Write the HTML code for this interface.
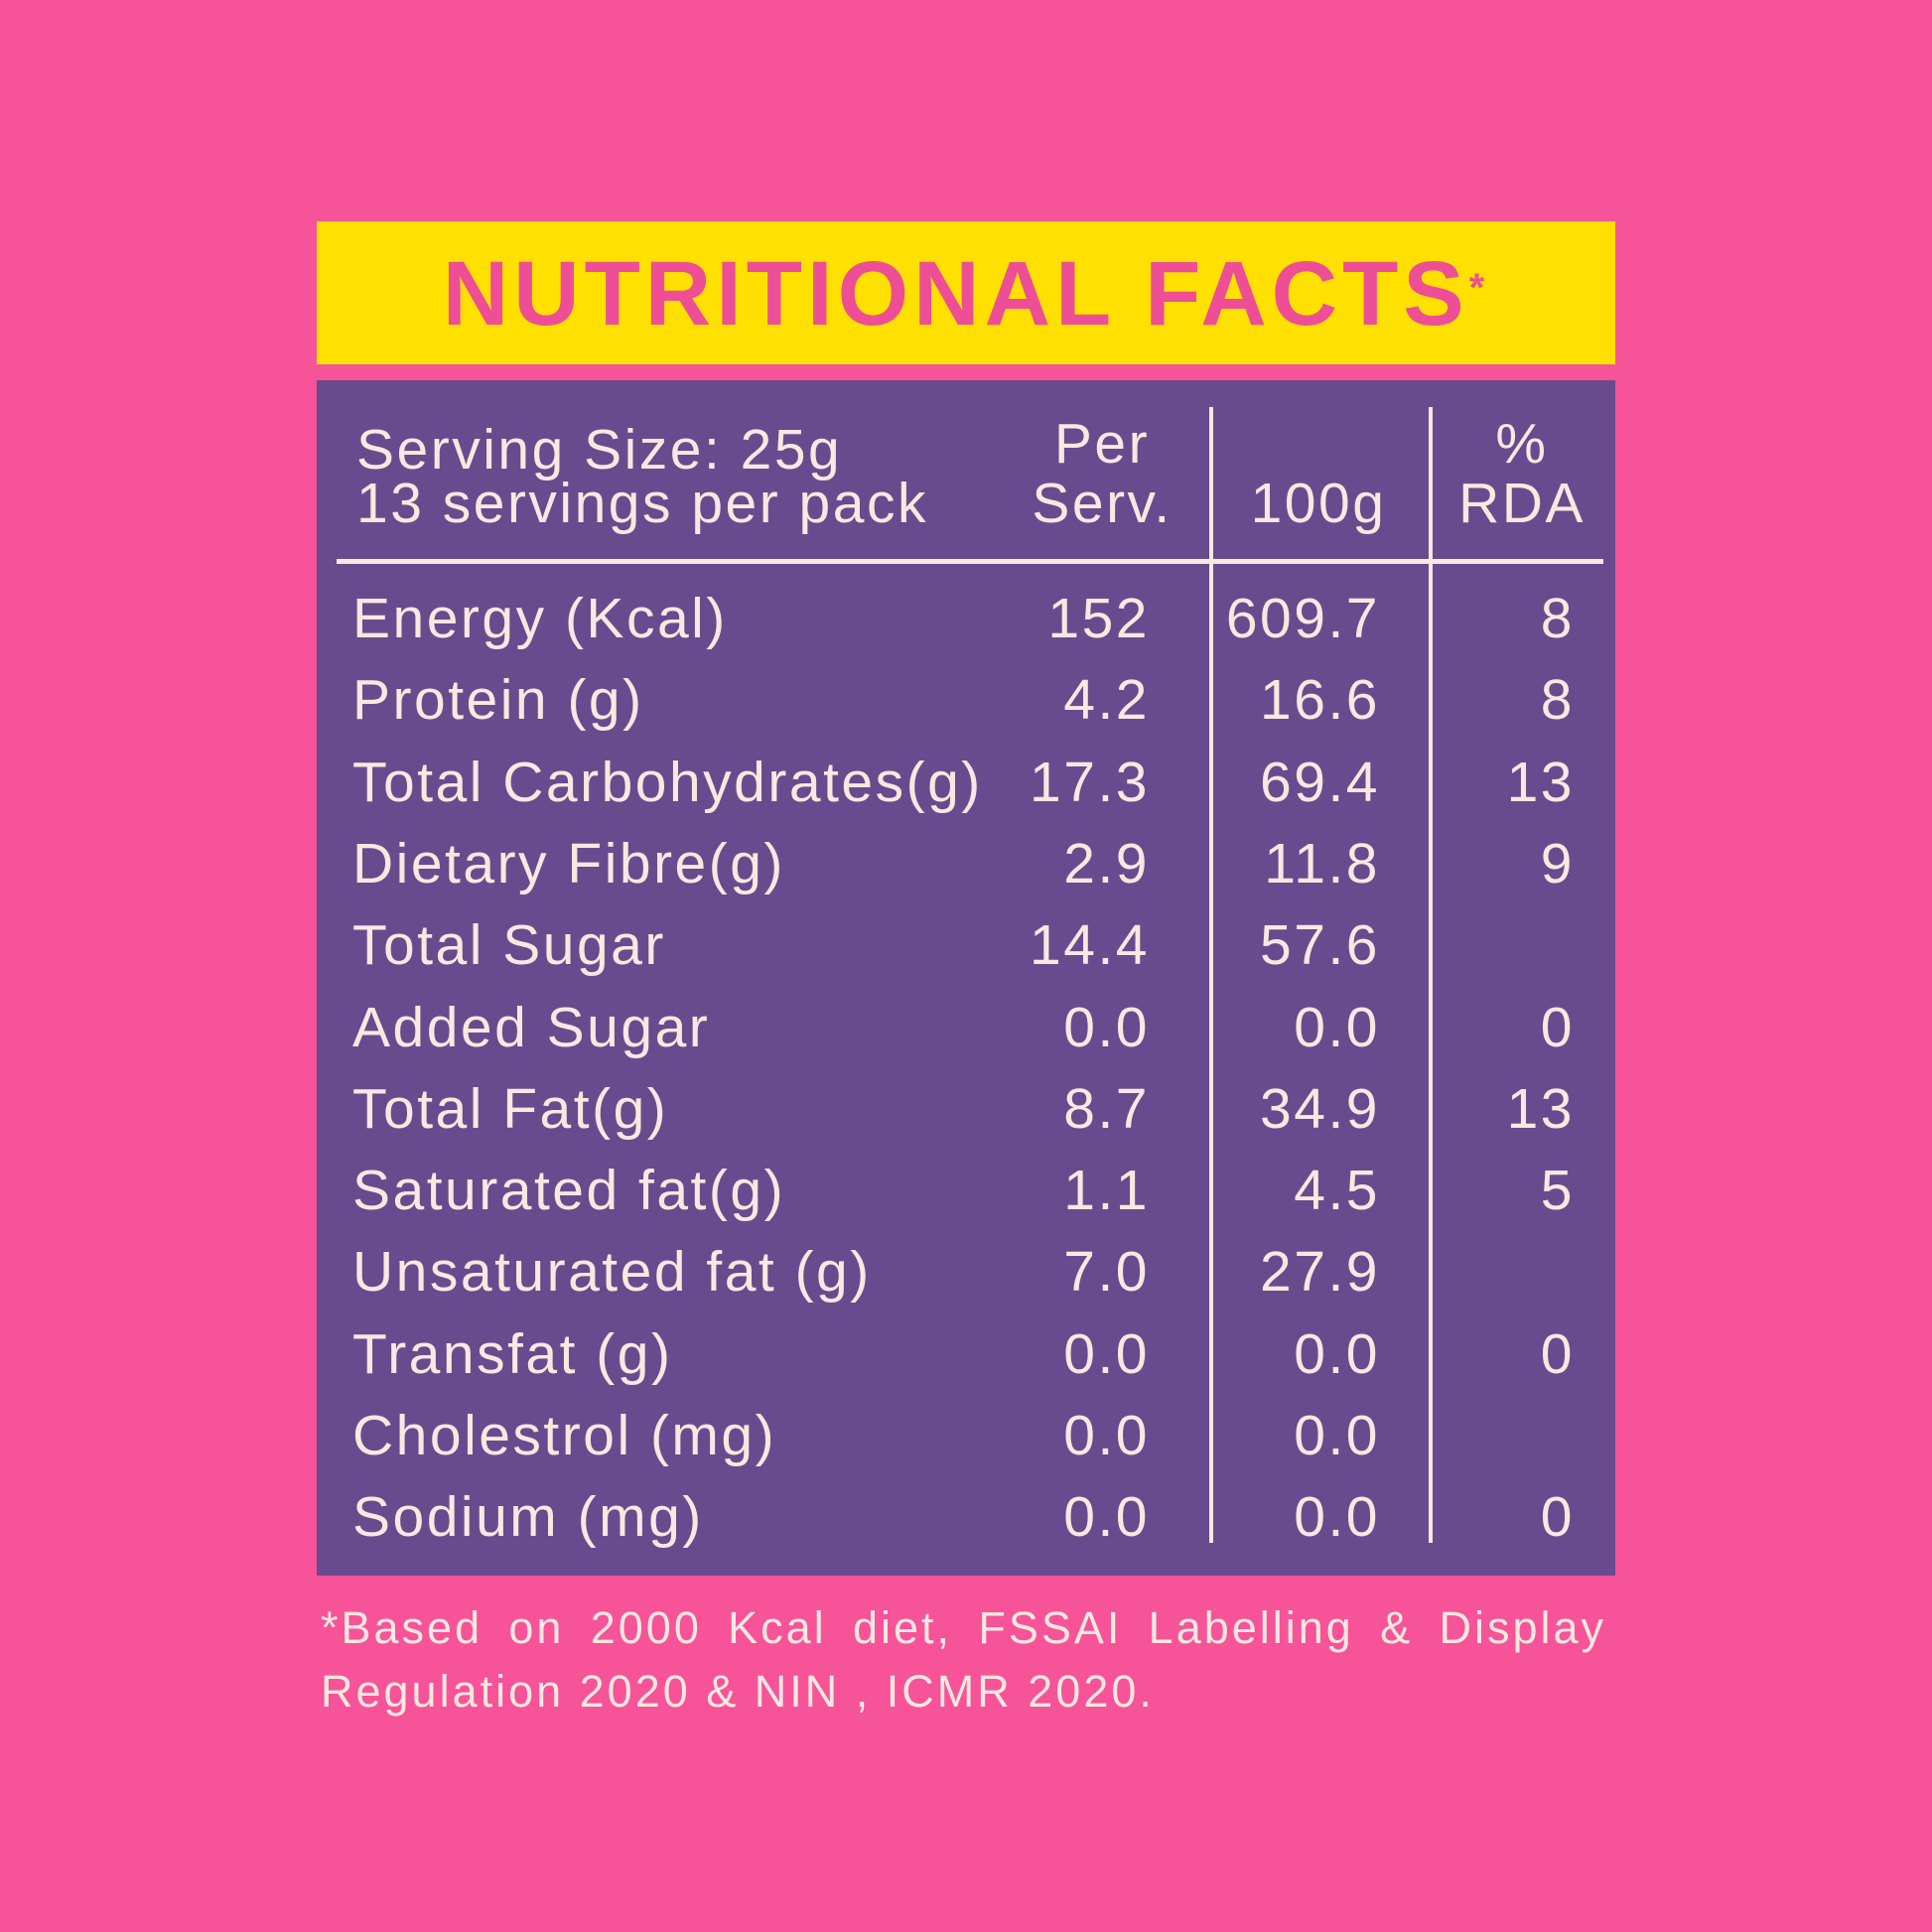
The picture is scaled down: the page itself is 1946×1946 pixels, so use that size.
<!DOCTYPE html>
<html><head><meta charset="utf-8"><style>
body{margin:0;width:1946px;height:1946px;background:#F65398;position:relative;font-family:"Liberation Sans",sans-serif;overflow:hidden}
.ab{position:absolute;white-space:nowrap}
#ban{left:319px;top:223px;width:1308px;height:144px;background:#FFE000}
#title{left:319px;width:1308px;top:250px;text-align:center;color:#EE4E96;font-weight:bold;font-size:92px;line-height:92px;letter-spacing:5px}
#title sup{font-size:40px;vertical-align:top;position:relative;top:-6px}
#box{left:319px;top:383px;width:1308px;height:1204px;background:#6A4A8E}
.t{color:#F8E8E0;font-size:57px;line-height:70px;letter-spacing:2.5px}
.hl{left:339px;top:563px;width:1276px;height:5px;background:#F8E8E0}
.vl{top:410px;width:4px;height:1144px;background:#F8E8E0}
.r{text-align:right}
#foot{left:323px;top:1608px;width:1295px;color:#F8E8E0;font-size:45px;line-height:64px;letter-spacing:3px;text-align:justify;white-space:normal}
</style></head><body>
<div class="ab" id="ban"></div>
<div class="ab" id="title">NUTRITIONAL FACTS<sup>*</sup></div>
<div class="ab" id="box"></div>
<div class="ab hl"></div>
<div class="ab vl" style="left:1218px"></div>
<div class="ab vl" style="left:1439px"></div>
<div class="ab t" style="left:359px;top:418px">Serving Size: 25g</div>
<div class="ab t" style="left:359px;top:472px">13 servings per pack</div>
<div class="ab t" style="left:1010px;width:200px;text-align:center;top:412px">Per</div>
<div class="ab t" style="left:1010px;width:200px;text-align:center;top:472px">Serv.</div>
<div class="ab t" style="left:1228px;width:200px;text-align:center;top:472px">100g</div>
<div class="ab t" style="left:1443px;width:180px;text-align:center;top:412px">%</div>
<div class="ab t" style="left:1443px;width:180px;text-align:center;top:472px">RDA</div>
<div id="rows"></div>
<div class="ab" id="foot">*Based on 2000 Kcal diet, FSSAI Labelling &amp; Display Regulation 2020 &amp; NIN , ICMR 2020.</div>
<script>
var d=[["Energy (Kcal)","152","609.7","8"],["Protein (g)","4.2","16.6","8"],["Total Carbohydrates(g)","17.3","69.4","13"],["Dietary Fibre(g)","2.9","11.8","9"],["Total Sugar","14.4","57.6",""],["Added Sugar","0.0","0.0","0"],["Total Fat(g)","8.7","34.9","13"],["Saturated fat(g)","1.1","4.5","5"],["Unsaturated fat (g)","7.0","27.9",""],["Transfat (g)","0.0","0.0","0"],["Cholestrol (mg)","0.0","0.0",""],["Sodium (mg)","0.0","0.0","0"]];
var h="";d.forEach(function(r,i){var y=588+i*82.3;
h+='<div class="ab t" style="left:355px;top:'+y+'px">'+r[0]+'</div>';
h+='<div class="ab t r" style="left:958px;width:200px;top:'+y+'px">'+r[1]+'</div>';
h+='<div class="ab t r" style="left:1190px;width:200px;top:'+y+'px">'+r[2]+'</div>';
h+='<div class="ab t r" style="left:1386px;width:200px;top:'+y+'px">'+r[3]+'</div>';});
document.getElementById("rows").innerHTML=h;
</script>
</body></html>
